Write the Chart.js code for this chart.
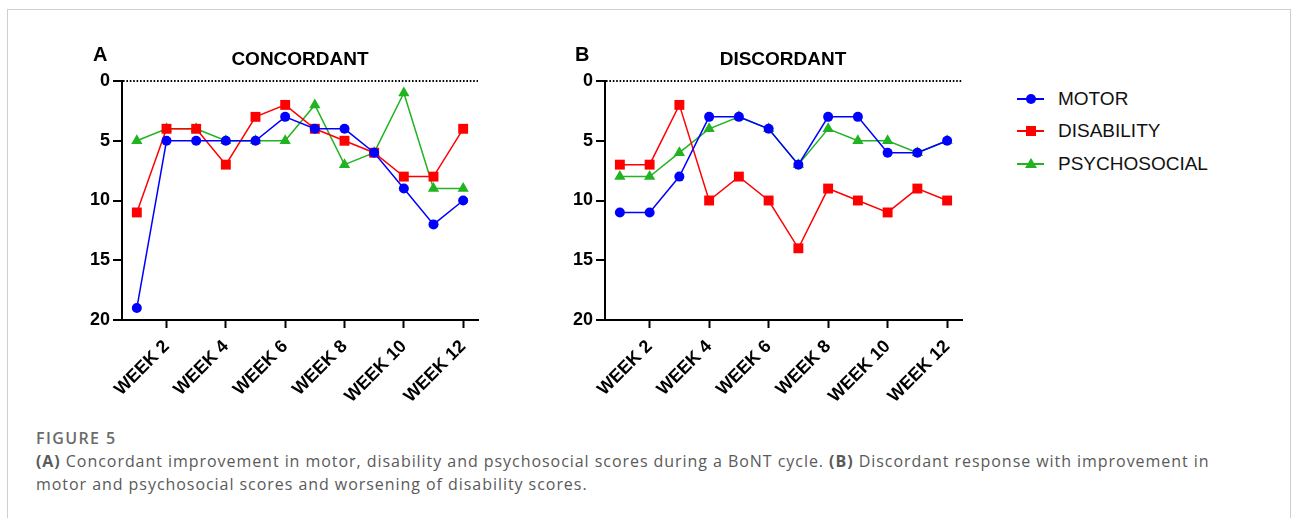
<!DOCTYPE html>
<html>
<head>
<meta charset="utf-8">
<script src="https://cdn.jsdelivr.net/npm/chart.js@4.4.1/dist/chart.umd.min.js"></script>
<style>
  body { margin: 0; background: #fff; }
  #page { position: relative; width: 1292px; height: 518px; overflow: hidden; background: #fff; }
  #frame { position: absolute; left: 7px; top: 9px; width: 1282px; height: 600px; border: 1px solid #cfcfcf; }
  .abs { position: absolute; }
  canvas { position: absolute; }
  .lbl { font: bold 20px "Liberation Sans", Arial, sans-serif; line-height: 1; color: #000; }
  .ttl { font: bold 19px "Liberation Sans", Arial, sans-serif; line-height: 1; color: #000; transform: translateX(-50%); white-space: nowrap; }
  .leg { position: absolute; left: 1017px; height: 20px; display: flex; align-items: center;
         font: 19px "Liberation Sans", Arial, sans-serif; line-height: 20px; color: #111; }
  .key { position: relative; width: 27px; height: 20px; margin-right: 14px; }
  .key .ln { position: absolute; left: 0; right: 0; top: 9px; height: 1.5px; }
  .key .mk { position: absolute; left: 50%; top: 50%; transform: translate(-50%, -50%); }
  .fig { font: 600 16px "Open Sans", sans-serif; line-height: 20px; letter-spacing: 1.4px; color: #6b6b6b; }
  .cap { font: 16px "Open Sans", sans-serif; line-height: 23px; letter-spacing: 0.95px; color: #5a5a5a; white-space: nowrap; }
  .cap b { font-weight: 700; }
</style>
</head>
<body>
<div id="page">
  <div id="frame"></div>
  <canvas id="chartA" width="500" height="420" style="left:0;top:0"></canvas>
  <canvas id="chartB" width="480" height="420" style="left:500px;top:0"></canvas>

  <div class="abs lbl" style="left:93px;top:44px">A</div>
  <div class="abs ttl" style="left:300px;top:49px">CONCORDANT</div>
  <div class="abs lbl" style="left:575px;top:44px">B</div>
  <div class="abs ttl" style="left:783px;top:49px">DISCORDANT</div>

  <div id="legend"></div>

  <div class="abs fig" style="left:36px;top:428px">FIGURE 5</div>
  <div class="abs cap" style="left:36px;top:450px">
    <b>(A)</b> Concordant improvement in motor, disability and psychosocial scores during a BoNT cycle. <b>(B)</b> Discordant response with improvement in<br>
    motor and psychosocial scores and worsening of disability scores.
  </div>
</div>
<script>
// ——— Datos ——————————————————————————————————————
const weeks = ["WEEK 1", "WEEK 2", "WEEK 3", "WEEK 4", "WEEK 5", "WEEK 6",
               "WEEK 7", "WEEK 8", "WEEK 9", "WEEK 10", "WEEK 11", "WEEK 12"];
const yTicks = [0, 5, 10, 15, 20];

// A: concordant
const motorA = [19, 5, 5, 5, 5, 3, 4, 4, 6, 9, 12, 10];
const disabilityA = [11, 4, 4, 7, 3, 2, 4, 5, 6, 8, 8, 4];
const psychoA = [5, 4, 4, 5, 5, 5, 2, 7, 6, 1, 9, 9];

// B: discordant
const motorB = [11, 11, 8, 3, 3, 4, 7, 3, 3, 6, 6, 5];
const disabilityB = [7, 7, 2, 10, 8, 10, 14, 9, 10, 11, 9, 10];
const psychoB = [8, 8, 6, 4, 3, 4, 7, 4, 5, 5, 6, 5];

const seriesNames = ["MOTOR", "DISABILITY", "PSYCHOSOCIAL"];

// ——— Estilo ——————————————————————————————————————
const BLUE = "#0000ff";
const RED = "#ff0000";
const GREEN = "#22b322";
const FONT = "'Liberation Sans', Arial, sans-serif";
const styles = [
    { color: BLUE, point: "circle", radius: 5 },
    { color: RED, point: "rect", radius: 7 },
    { color: GREEN, point: "triangle", radius: 6.5 },
];

function dataset(i, values) {
    const s = styles[i];
    return {
        label: seriesNames[i],
        data: values,
        borderColor: s.color,
        backgroundColor: s.color,
        borderWidth: 1.5,
        pointStyle: s.point,
        pointRadius: s.radius,
        pointBorderWidth: 0,
        tension: 0,
        clip: false,
    };
}

function crearChart(id, axisWidth, padRight, series) {
    return new Chart(document.getElementById(id), {
        type: "line",
        data: {
            labels: weeks,
            datasets: series.map((vals, i) => dataset(i, vals)),
        },
        options: {
            responsive: false,
            animation: false,
            layout: { padding: { top: 81, right: padRight, left: 0, bottom: 0 } },
            plugins: { legend: { display: false }, tooltip: { enabled: false } },
            scales: {
                x: {
                    offset: true,
                    grid: {
                        drawOnChartArea: false,
                        tickLength: 8,
                        tickWidth: 2,
                        tickColor: (c) => (c.index % 2 ? "#000" : "transparent"),
                    },
                    border: { color: "#000", width: 2 },
                    ticks: {
                        autoSkip: false,
                        minRotation: 45,
                        maxRotation: 45,
                        padding: 8,
                        color: "#000",
                        font: { family: FONT, size: 18, weight: "bold" },
                        callback: (v, i) => (i % 2 ? weeks[i] : ""),
                    },
                    afterFit: (s) => { s.height = 100; },
                },
                y: {
                    reverse: true,
                    min: 0,
                    max: 20,
                    afterBuildTicks: (s) => { s.ticks = yTicks.map((v) => ({ value: v })); },
                    grid: {
                        color: (c) => (c.tick && c.tick.value === 0 ? "#000" : "transparent"),
                        lineWidth: 2,
                        tickColor: "#000",
                        tickWidth: 2,
                        tickLength: 9,
                    },
                    border: { color: "#000", width: 2, dash: [1.6, 1.8] },
                    ticks: {
                        padding: 3,
                        color: "#000",
                        font: { family: FONT, size: 18, weight: "bold" },
                    },
                    afterFit: (s) => { s.width = axisWidth; },
                },
            },
        },
    });
}

crearChart("chartA", 122, 22, [motorA, disabilityA, psychoA]);
crearChart("chartB", 105, 18, [motorB, disabilityB, psychoB]);

// ——— Leyenda ——————————————————————————————————————
const legendTops = [89, 121, 154];
const legend = document.getElementById("legend");
seriesNames.forEach((name, i) => {
    const s = styles[i];
    const row = document.createElement("div");
    row.className = "leg";
    row.style.top = legendTops[i] + "px";
    let mk;
    if (s.point === "circle") {
        mk = `<div class="mk" style="width:10px;height:10px;border-radius:50%;background:${s.color}"></div>`;
    } else if (s.point === "rect") {
        mk = `<div class="mk" style="width:10px;height:10px;background:${s.color}"></div>`;
    } else {
        mk = `<div class="mk" style="width:0;height:0;border-left:6px solid transparent;border-right:6px solid transparent;border-bottom:10px solid ${s.color};margin-top:-1px"></div>`;
    }
    row.innerHTML = `<div class="key"><div class="ln" style="background:${s.color}"></div>${mk}</div><span>${name}</span>`;
    legend.appendChild(row);
});
</script>
</body>
</html>
